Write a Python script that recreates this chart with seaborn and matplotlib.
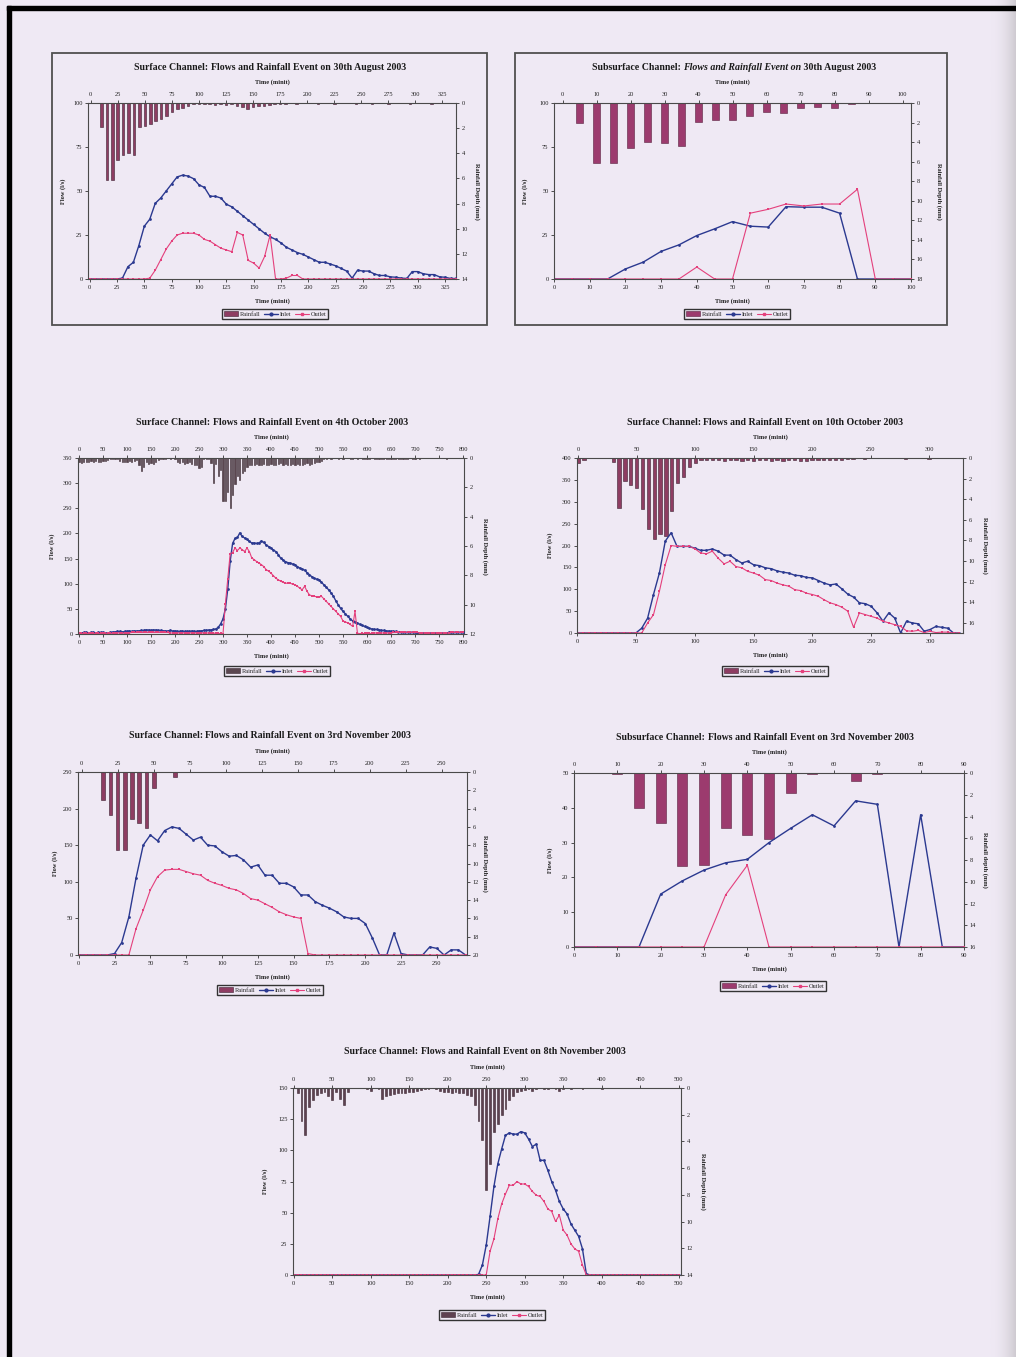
import numpy as np
import matplotlib
matplotlib.use("Agg")
import matplotlib.pyplot as plt
import seaborn as sns
from matplotlib.patches import Rectangle, Patch
from matplotlib.lines import Line2D

W, H = 1016, 1357
PAGE = "#efe9f4"
INLET = "#2b3990"
OUTLET = "#e4407c"

# ---------------- data (flows in l/s, rainfall in mm, 5-minute steps) ----------------
# Chart 1: surface channel, 30 Aug 2003
c1_inlet = [0, 0, 0, 0, 0, 0, 0.5, 7, 9.5, 19, 30, 34, 43, 46, 50, 54, 58, 59, 58.5, 57,
            53.5, 52, 47, 47, 46, 42.5, 41, 38.5, 36, 33.5, 31, 28.5, 26, 24, 22.5, 20.5, 18,
            16.5, 15, 14, 12.5, 11, 9.5, 9.5, 8.5, 7.5, 6, 4.5, 0.5, 5, 4.5, 4.5, 3, 2, 2, 1.2,
            1, 0.5, 0.3, 4.2, 4.2, 3, 2.5, 2.5, 1.2, 1, 0.3, 0.3]
c1_outlet = [0, 0, 0, 0, 0, 0, 0, 0, 0, 0, 0, 0.5, 5, 11, 17, 21.5, 25, 26, 26, 26,
             25, 22.5, 21.5, 19.5, 17.5, 16.5, 15.5, 26.5, 25, 10.6, 9, 6.2, 12.8, 25, 0, 0,
             0.5, 2, 2, 0] + [0] * 28
c1_rain = [0, 0, 1.9, 6.1, 6.1, 4.5, 4.15, 4.0, 4.15, 1.9, 1.8, 1.7, 1.4, 1.25, 1.0, 0.7,
           0.5, 0.4, 0.2, 0.1, 0.05, 0.05, 0.1, 0.15, 0.1, 0.15, 0.1, 0.2, 0.3, 0.45, 0.3,
           0.2, 0.2, 0.15, 0.1, 0.1, 0.05, 0, 0.05, 0, 0, 0, 0.05, 0, 0, 0.05, 0, 0, 0, 0.05,
           0, 0, 0.05, 0, 0, 0.05, 0, 0, 0, 0.05, 0, 0, 0, 0.05, 0, 0, 0, 0]

# Chart 2: subsurface channel, 30 Aug 2003
c2_inlet = [0, 0, 0, 0, 5.7, 9.6, 15.7, 19.4, 24.7, 28.5, 32.6, 30.0, 29.5, 41.1, 40.8,
            40.8, 37.4, 0, 0, 0, 0]
c2_outlet = [0, 0, 0, 0, 0, 0, 0, 0, 6.8, 0, 0, 37.4, 39.6, 42.6, 41.5, 42.6, 42.6, 51,
             0, 0, 0]
c2_rain = [0, 2.0, 6.1, 6.1, 4.6, 4.0, 4.1, 4.4, 1.9, 1.75, 1.7, 1.3, 0.95, 1.05, 0.55,
           0.4, 0.5, 0.1, 0.05, 0, 0.05]

# Chart 3: surface channel, 4 Oct 2003
c3_inlet = [2, 2, 3, 3, 2, 3, 3, 2, 3, 3,
            3, 2, 2, 3, 4, 4, 5, 5, 4, 5,
            5, 6, 5, 6, 6, 6, 7, 7, 8, 8,
            7, 8, 8, 7, 7, 6, 6, 6, 7, 6,
            6, 5, 5, 6, 5, 5, 5, 6, 5, 5,
            6, 6, 7, 7, 8, 8, 9, 10, 13, 20,
            30, 50, 90, 145, 180, 190, 192, 201, 194, 191,
            188, 184, 181, 181, 180, 181, 185, 182, 177, 174,
            171, 167, 164, 158, 151, 147, 144, 142, 141, 139,
            138, 134, 131, 129, 127, 122, 118, 114, 111, 109,
            108, 103, 98, 93, 88, 82, 75, 66, 58, 51,
            45, 40, 35, 30, 26, 24, 22, 19, 17, 15,
            13, 11, 10, 9, 9, 8, 7, 7, 6, 6,
            5, 5, 5, 4, 4, 4, 3, 3, 3, 3,
            3, 2, 2, 2, 2, 2, 2, 2, 2, 2,
            2, 2, 2, 2, 3, 3, 3, 3, 3, 3,
            3]
c3_outlet = [1, 1, 1, 1, 1, 1, 1, 1, 1, 1,
             1, 1, 1, 1, 2, 2, 2, 2, 2, 2,
             2, 2, 3, 3, 3, 3, 3, 3, 3, 3,
             3, 3, 3, 3, 3, 3, 3, 3, 2, 2,
             2, 2, 2, 2, 2, 2, 2, 2, 2, 2,
             2, 2, 2, 2, 2, 2, 2, 1, 1, 1,
             0, 60, 110, 160, 162, 171, 166, 171, 168, 164,
             171, 164, 151, 148, 144, 141, 138, 134, 128, 125,
             121, 116, 111, 108, 105, 103, 101, 101, 101, 99,
             98, 95, 91, 88, 95, 85, 78, 76, 75, 74,
             73, 75, 70, 65, 60, 55, 50, 45, 40, 35,
             26, 24, 22, 19, 15, 45, 2, 0, 1, 1,
             1, 1, 1, 2, 2, 2, 2, 2, 2, 2,
             2, 3, 3, 3, 3, 3, 3, 3, 3, 3,
             3, 3, 2, 2, 2, 2, 2, 2, 2, 2,
             2, 2, 2, 2, 2, 3, 3, 3, 3, 3,
             3]
c3_rain = [0.3, 0.35, 0.3, 0.3, 0.25, 0.2, 0.25, 0.2, 0.3, 0.25,
           0.2, 0.2, 0.15, 0.1, 0.1, 0.05, 0.1, 0.2, 0.25, 0.3,
           0.3, 0.2, 0.25, 0.2, 0.15, 0.5, 0.9, 0.6, 0.3, 0.4,
           0.35, 0.4, 0.3, 0.15, 0.1, 0.1, 0.05, 0, 0.05, 0,
           0.1, 0.3, 0.35, 0.3, 0.4, 0.35, 0.3, 0.4, 0.45, 0.5,
           0.7, 0.6, 0.1, 0.05, 0.1, 0.35, 1.7, 0.4, 1.25, 0.8,
           2.9, 2.9, 2.3, 3.4, 2.5, 1.8, 1.2, 1.5, 1.0, 0.9,
           0.6, 0.5, 0.45, 0.5, 0.4, 0.5, 0.45, 0.4, 0.5, 0.45,
           0.4, 0.45, 0.5, 0.4, 0.35, 0.45, 0.4, 0.5, 0.45, 0.4,
           0.45, 0.4, 0.5, 0.45, 0.4, 0.35, 0.45, 0.4, 0.35, 0.3,
           0.25, 0.2, 0.1, 0.05, 0, 0.05, 0, 0, 0.05, 0,
           0.05, 0, 0, 0.05, 0.1, 0, 0.05, 0, 0.1, 0.05,
           0.1, 0.05, 0, 0.1, 0.05, 0.1, 0.05, 0.1, 0.05, 0.1,
           0.05, 0.1, 0.05, 0.05, 0.1, 0.05, 0.1, 0.05, 0, 0.05,
           0.05, 0, 0.05, 0, 0, 0, 0, 0, 0, 0,
           0, 0, 0, 0.05, 0, 0, 0, 0, 0, 0,
           0]

# Chart 4: surface channel, 10 Oct 2003
c4_inlet = [0, 0, 0, 0, 0, 0, 0, 0, 0, 0,
            0, 11, 34, 88, 137, 210, 229, 198, 198, 198,
            194, 189, 189, 192, 187, 178, 178, 168, 160, 164,
            156, 154, 149, 147, 142, 139, 137, 132, 131, 127,
            126, 120, 114, 110, 112, 101, 89, 82, 69, 67,
            61, 46, 27, 46, 34, 0, 27, 23, 21, 4,
            8, 15, 13, 11, 0, 0]
c4_outlet = [0, 0, 0, 0, 0, 0, 0, 0, 0, 0,
             0, 0, 23, 42, 95, 156, 200, 198, 198, 198,
             193, 183, 181, 187, 171, 158, 164, 152, 149, 141,
             137, 132, 122, 120, 114, 110, 107, 99, 97, 91,
             88, 84, 76, 69, 65, 59, 50, 13, 46, 42,
             38, 34, 27, 23, 19, 15, 5, 4, 6, 1,
             4, 1, 2, 2, 0, 0]
c4_rain = [0.5, 0.2, 0, 0, 0, 0, 0.4, 4.9, 2.2, 2.6, 2.9, 5.0, 6.9, 7.9, 7.4, 7.6, 5.1,
           2.4, 1.8, 0.9, 0.5,
           0.15, 0.2, 0.15, 0.2, 0.25, 0.2, 0.2, 0.25, 0.2, 0.25, 0.2, 0.2, 0.25, 0.2, 0.25,
           0.2, 0.2, 0.25, 0.25, 0.2, 0.2, 0.2, 0.15, 0.2, 0.15,
           0.1, 0.05, 0, 0.1, 0, 0, 0, 0, 0, 0, 0.05, 0, 0, 0, 0.05, 0, 0, 0, 0, 0]

# Chart 5: surface channel, 3 Nov 2003
c5_inlet = [0, 0, 0, 0, 0, 2, 17, 52, 105, 150, 164, 156, 170, 175, 173,
            165, 157, 161, 150, 149, 141, 135, 136, 130, 120, 123, 109, 109, 98, 98,
            93, 82, 82, 73, 68, 64, 59, 52, 50, 50, 43, 23, 0, 0, 30,
            2, 0, 0, 0, 11, 9, 0, 7, 7, 0]
c5_outlet = [0, 0, 0, 0, 0, 0, 0, 0, 36, 61, 89, 107, 116, 117, 117,
             114, 111, 109, 102, 98, 95, 91, 89, 84, 77, 75, 70, 65, 59, 55,
             52, 50, 2, 0, 0] + [0] * 20
c5_rain = [0, 0, 0, 3.1, 4.65, 8.5, 8.5, 5.1, 5.6, 6.1, 1.8, 0, 0, 0.5] + [0] * 40

# Chart 6: subsurface channel, 3 Nov 2003
c6_inlet = [0, 0, 0, 0, 15.2, 19, 22.1, 24.2, 25.2, 30, 34.1, 38, 34.8, 42, 41, 0, 38, 0, 0]
c6_outlet = [0, 0, 0, 0, 0, 0, 0, 15, 23.5, 0, 0, 0, 0, 0, 0, 0, 0, 0, 0]
c6_rain = [0, 0, 0.05, 3.2, 4.6, 8.55, 8.5, 5.1, 5.7, 6.1, 1.85, 0.05, 0, 0.7, 0.05, 0, 0, 0, 0]

# Chart 7: surface channel, 8 Nov 2003
c7_inlet = [0] * 48 + [0.5, 8, 24, 47, 71, 89, 101, 112, 114, 113, 113, 115, 114, 109, 103,
                       105, 92, 92, 84, 75, 68, 59, 53, 49, 41, 36, 31, 21, 1] + [0] * 24
c7_outlet = [0] * 50 + [0, 19, 29, 45, 57, 65, 72, 72, 75, 73, 73, 71, 67, 64, 63, 59, 53,
                        51, 43, 48, 36, 32, 25, 21, 19, 8, 0] + [0] * 24
c7_rain = [0, 0.4, 2.5, 3.5, 1.4, 0.9, 0.5, 0.4, 0.3, 0.6,
           0.9, 0.3, 0.8, 1.3, 0.3, 0, 0, 0, 0, 0.05,
           0.2, 0, 0.1, 0.8, 0.6, 0.5, 0.45, 0.4, 0.4, 0.35,
           0.3, 0.3, 0.2, 0.15, 0.1, 0.05, 0, 0.05, 0.2, 0.3,
           0.3, 0.35, 0.3, 0.35, 0.35, 0.5, 0.6, 1.3, 2.5, 3.9,
           7.6, 5.7, 3.3, 2.7, 2.0, 1.6, 0.9, 0.6, 0.3, 0.2,
           0.15, 0.1, 0.2, 0.1, 0, 0.1, 0.05, 0, 0.1, 0.2,
           0.05, 0, 0.05, 0, 0, 0.05, 0, 0, 0, 0,
           0.05] + [0] * 20

TITLE_TAIL = "Flows and Rainfall Event on"
charts = [
    dict(title=("Surface Channel: ", " 30th August 2003"), italic=False,
         inlet=c1_inlet, outlet=c1_outlet, rain=c1_rain,
         box=(88, 103, 456, 279), frame=(52, 53, 487, 325), title_xy=(270, 68),
         legend_xy=(275, 314), ylab_x=(63, 477),
         bot_lim=(-1.5, 335), top_lim=(-2.5, 337.5), xticks=range(0, 326, 25),
         flow_max=100, flow_ticks=range(0, 101, 25), rain_max=14, rain_ticks=range(0, 15, 2),
         bar_w=2.4, bar_fc="#8e3d62", bar_ec="#3b2030", rlabel="Rainfall Depth (mm)"),
    dict(title=("Subsurface Channel: ", " 30th August 2003"), italic=True,
         inlet=c2_inlet, outlet=c2_outlet, rain=c2_rain,
         box=(554, 103, 911, 279), frame=(515, 53, 947, 325), title_xy=(734, 67),
         legend_xy=(737, 314), ylab_x=(525, 939),
         bot_lim=(0, 100), top_lim=(-2.5, 102.5), xticks=range(0, 101, 10),
         flow_max=100, flow_ticks=range(0, 101, 25), rain_max=18, rain_ticks=range(0, 19, 2),
         bar_w=2.15, bar_fc="#9c3b6e", bar_ec="#5a2040", rlabel="Rainfall Depth (mm)"),
    dict(title=("Surface Channel: ", " 4th October 2003"), italic=False,
         inlet=c3_inlet, outlet=c3_outlet, rain=c3_rain,
         box=(78, 458, 464, 634), frame=None, title_xy=(272, 422),
         legend_xy=(277, 671), ylab_x=(52, 485),
         bot_lim=(-2, 802), top_lim=(-2, 802), xticks=range(0, 801, 50),
         flow_max=350, flow_ticks=range(0, 351, 50), rain_max=12, rain_ticks=range(0, 13, 2),
         bar_w=2.4, bar_fc="#5b4750", bar_ec="#3a2a32", rlabel="Rainfall Depth (mm)"),
    dict(title=("Surface Channel: ", " 10th October 2003"), italic=False,
         inlet=c4_inlet, outlet=c4_outlet, rain=c4_rain,
         box=(577, 458, 963, 633), frame=None, title_xy=(765, 422),
         legend_xy=(775, 671), ylab_x=(550, 985),
         bot_lim=(0, 328), top_lim=(-1, 329), xticks=range(0, 301, 50),
         flow_max=400, flow_ticks=range(0, 401, 50), rain_max=17, rain_ticks=range(0, 17, 2),
         bar_w=2.8, bar_fc="#8e3d62", bar_ec="#3b2030", rlabel="Rainfall Depth (mm)"),
    dict(title=("Surface Channel: ", " 3rd November 2003"), italic=False,
         inlet=c5_inlet, outlet=c5_outlet, rain=c5_rain,
         box=(78, 772, 467, 955), frame=None, title_xy=(270, 736),
         legend_xy=(270, 990), ylab_x=(55, 485),
         bot_lim=(-0.5, 271), top_lim=(-2.5, 267.5), xticks=range(0, 251, 25),
         flow_max=250, flow_ticks=range(0, 251, 50), rain_max=20, rain_ticks=range(0, 21, 2),
         bar_w=2.6, bar_fc="#8e3d62", bar_ec="#3b2030", rlabel="Rainfall Depth (mm)"),
    dict(title=("Subsurface Channel: ", " 3rd November 2003"), italic=False,
         inlet=c6_inlet, outlet=c6_outlet, rain=c6_rain,
         box=(574, 773, 964, 947), frame=None, title_xy=(765, 737),
         legend_xy=(773, 986), ylab_x=(550, 985),
         bot_lim=(0, 90), top_lim=(0, 90), xticks=range(0, 91, 10),
         flow_max=50, flow_ticks=range(0, 51, 10), rain_max=16, rain_ticks=range(0, 17, 2),
         bar_w=2.3, bar_fc="#9c3b6e", bar_ec="#5a2040", rlabel="Rainfall depth (mm)"),
    dict(title=("Surface Channel: ", " 8th November 2003"), italic=False,
         inlet=c7_inlet, outlet=c7_outlet, rain=c7_rain,
         box=(293, 1088, 681, 1275), frame=None, title_xy=(485, 1051),
         legend_xy=(492, 1315), ylab_x=(265, 703),
         bot_lim=(-1, 503), top_lim=(-1, 503), xticks=range(0, 501, 50),
         flow_max=150, flow_ticks=range(0, 151, 25), rain_max=14, rain_ticks=range(0, 15, 2),
         bar_w=2.4, bar_fc="#5e4150", bar_ec="#3a2530", rlabel="Rainfall Depth (mm)"),
]


def fx(x):
    return x / W


def fy(y):
    return 1 - y / H


def px_rect(l, t, r, b):
    return [l / W, 1 - b / H, (r - l) / W, (b - t) / H]


def mixed_title(fig, xc, y, parts, size):
    # draw text pieces side by side, centred as one line
    r = fig.canvas.get_renderer()
    texts = []
    for s, style in parts:
        t = fig.text(0, fy(y), s, fontsize=size, fontweight="bold", fontstyle=style,
                     ha="left", va="center", color="#1a1a1a")
        texts.append(t)
    widths = [t.get_window_extent(renderer=r).width for t in texts]
    x = xc - sum(widths) / 2
    for t, w in zip(texts, widths):
        t.set_x(fx(x))
        x += w


def draw_chart(fig, c):
    l, t, r, b = c["box"]
    rect = px_rect(l, t, r, b)
    axb = fig.add_axes(rect, zorder=1)
    axl = fig.add_axes(rect, zorder=2)
    for a in (axb, axl):
        a.patch.set_visible(False)
        for s in a.spines.values():
            s.set_color("#4a4a4a")
            s.set_linewidth(0.8)
        a.tick_params(labelsize=4.6, length=2.5, width=0.6, pad=1.5, colors="#333333",
                      labelcolor="#222222")

    # rainfall bars hang from the top (secondary axes)
    rt = np.arange(len(c["rain"])) * 5
    axb.bar(rt, c["rain"], width=c["bar_w"], color=c["bar_fc"], edgecolor=c["bar_ec"],
            linewidth=0.4)
    axb.set_xlim(*c["top_lim"])
    axb.set_ylim(c["rain_max"], 0)
    axb.xaxis.tick_top()
    axb.yaxis.tick_right()
    axb.set_xticks(list(c["xticks"]))
    axb.set_yticks(list(c["rain_ticks"]))
    axb.spines[["left", "bottom"]].set_visible(False)

    # inlet / outlet flows
    lt = np.arange(len(c["inlet"])) * 5
    sns.lineplot(x=lt, y=c["inlet"], ax=axl, color=INLET, marker="o", markersize=2.0,
                 markeredgewidth=0, linewidth=1.0, legend=False, errorbar=None)
    sns.lineplot(x=lt, y=c["outlet"], ax=axl, color=OUTLET, marker="s", markersize=1.5,
                 markeredgewidth=0, linewidth=0.8, legend=False, errorbar=None)
    axl.set_xlim(*c["bot_lim"])
    axl.set_ylim(0, c["flow_max"])
    axl.set_xticks(list(c["xticks"]))
    axl.set_yticks(list(c["flow_ticks"]))
    axl.spines[["top", "right"]].set_visible(False)
    axl.set_xlabel("")
    axl.set_ylabel("")

    # texts
    xc = (l + r) / 2
    ym = (t + b) / 2
    lab = dict(fontsize=4.6, fontweight="bold", color="#222222", ha="center", va="center")
    fig.text(fx(xc), fy(t - 21), "Time (minit)", **lab)
    fig.text(fx(xc), fy(b + 22), "Time (minit)", **lab)
    fig.text(fx(c["ylab_x"][0]), fy(ym), "Flow (l/s)", rotation=90, **lab)
    fig.text(fx(c["ylab_x"][1]), fy(ym), c["rlabel"], rotation=-90, **lab)

    head, tail = c["title"]
    mid_style = "italic" if c["italic"] else "normal"
    mixed_title(fig, c["title_xy"][0], c["title_xy"][1],
                [(head, "normal"), (TITLE_TAIL, mid_style), (tail, "normal")], 7.1)

    handles = [Patch(facecolor=c["bar_fc"], edgecolor=c["bar_ec"], linewidth=0.4),
               Line2D([], [], color=INLET, marker="o", markersize=2, linewidth=1.0),
               Line2D([], [], color=OUTLET, marker="s", markersize=1.5, linewidth=0.8)]
    fig.legend(handles, ["Rainfall", "Inlet", "Outlet"], loc="center",
               bbox_to_anchor=(fx(c["legend_xy"][0]), fy(c["legend_xy"][1])), ncol=3,
               fontsize=4.5, frameon=True, fancybox=False, edgecolor="#333333",
               facecolor=PAGE, framealpha=1, handlelength=2.2, handleheight=0.8,
               handletextpad=0.3, columnspacing=0.6, borderpad=0.3)

    if c["frame"] is not None:
        fl, ft, fr, fb = c["frame"]
        fig.patches.append(Rectangle((fx(fl), fy(fb)), (fr - fl) / W, (fb - ft) / H,
                                     transform=fig.transFigure, fill=False,
                                     edgecolor="#505050", linewidth=1.3))


def main():
    sns.set_style("ticks")
    plt.rcParams["font.family"] = ["Liberation Serif", "DejaVu Serif"]

    fig = plt.figure(figsize=(W / 100, H / 100), dpi=100, facecolor=PAGE)

    # scanner shadow on the right edge
    shade = fig.add_axes([990 / W, 0, 26 / W, 1], zorder=0)
    grad = np.linspace(0, 1, 50)[None, :] ** 2
    shade.imshow(grad, aspect="auto", cmap=matplotlib.colors.LinearSegmentedColormap.from_list(
        "edge", [PAGE, "#cfcbd1"]), extent=(0, 1, 0, 1))
    shade.set_axis_off()

    for c in charts:
        draw_chart(fig, c)

    # black scan borders (top and left)
    fig.patches.append(Rectangle((fx(7), fy(10)), 1, 4 / H, transform=fig.transFigure,
                                 color="black", zorder=20))
    fig.patches.append(Rectangle((fx(7), 0), 4 / W, fy(6), transform=fig.transFigure,
                                 color="black", zorder=20))

    fig.savefig("out.png", dpi=100, facecolor=PAGE)


if __name__ == "__main__":
    main()
